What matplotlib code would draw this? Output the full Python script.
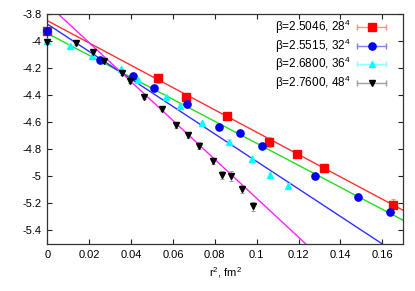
import matplotlib
matplotlib.use("Agg")
import matplotlib.pyplot as plt
import numpy as np
from matplotlib.lines import Line2D
from matplotlib.legend_handler import HandlerLine2D, HandlerTuple
from matplotlib.ticker import FuncFormatter

plt.rcParams['font.family'] = ['Liberation Sans', 'DejaVu Sans']
plt.rcParams['mathtext.fontset'] = 'custom'
plt.rcParams['mathtext.rm'] = 'Liberation Sans'
plt.rcParams['mathtext.it'] = 'Liberation Sans:italic'
plt.rcParams['axes.unicode_minus'] = False

# ---- data ----
labels = [r'β=2.5046, 28$^{\mathrm{4}}$', r'β=2.5515, 32$^{\mathrm{4}}$',
          r'β=2.6800, 36$^{\mathrm{4}}$', r'β=2.7600, 48$^{\mathrm{4}}$']

x_red = [0.0, 0.0528, 0.0661, 0.0859, 0.1058, 0.1190, 0.1322, 0.1652]
y_red = [-3.923, -4.275, -4.415, -4.555, -4.747, -4.833, -4.939, -5.215]
e_red = [0.03, 0.035, 0.03, 0.02, 0.035, 0.02, 0.025, 0.045]

x_blue = [0.0, 0.0252, 0.0409, 0.0510, 0.0667, 0.0820, 0.0921, 0.1025, 0.1280, 0.1485, 0.1638]
y_blue = [-3.923, -4.140, -4.258, -4.348, -4.464, -4.632, -4.683, -4.772, -4.996, -5.153, -5.266]
e_blue = [0.02, 0.015, 0.02, 0.02, 0.02, 0.015, 0.015, 0.02, 0.02, 0.02, 0.02]

x_cyan = [0.0, 0.0108, 0.0215, 0.0350, 0.0432, 0.0567, 0.0634, 0.0740, 0.0868, 0.0976, 0.1063, 0.1151]
y_cyan = [-3.997, -4.034, -4.110, -4.206, -4.287, -4.410, -4.479, -4.607, -4.747, -4.872, -4.988, -5.069]
e_cyan = [0.015, 0.01, 0.01, 0.01, 0.015, 0.015, 0.015, 0.015, 0.02, 0.02, 0.02, 0.02]

x_black = [0.0, 0.0137, 0.0218, 0.0272, 0.0355, 0.0395, 0.0462, 0.0548, 0.0615, 0.0670,
           0.0724, 0.0793, 0.0834, 0.0876, 0.0928, 0.0984]
y_black = [-4.004, -4.012, -4.078, -4.147, -4.233, -4.292, -4.410, -4.503, -4.624, -4.693,
           -4.772, -4.885, -4.988, -4.996, -5.092, -5.222]
e_black = [0.02, 0.015, 0.015, 0.015, 0.015, 0.015, 0.015, 0.015, 0.015, 0.02,
           0.025, 0.02, 0.03, 0.035, 0.03, 0.035]

# fit lines: intercept, slope
line_intercepts = [-3.849, -3.943, -3.874, -3.7245]
line_slopes = [-8.25, -8.13, -10.16, -14.38]
line_colors = ['#ff3030', '#22dd22', '#3030ff', '#ff22ff']

xticks = [0, 0.02, 0.04, 0.06, 0.08, 0.1, 0.12, 0.14, 0.16]
yticks = [-5.4, -5.2, -5.0, -4.8, -4.6, -4.4, -4.2, -4.0, -3.8]

# ---- figure ----
fig = plt.figure(figsize=(4.15, 2.91), dpi=100)
ax = fig.add_axes([47.3/415, 1-244/291, (403.3-47.3)/415, (244-14)/291])
ax.set_xlim(0, 0.17)
ax.set_ylim(-5.5, -3.8)

xx = np.array([0, 0.17])
for b, m, c in zip(line_intercepts, line_slopes, line_colors):
    ax.plot(xx, b + m*xx, color=c, lw=1.0, zorder=2)

series = [
    (x_red, y_red, e_red, 's', '#ff0000', '#ff9090', 5.2),
    (x_blue, y_blue, e_blue, 'o', '#0000ee', '#8080ff', 5.2),
    (x_cyan, y_cyan, e_cyan, '^', '#00ffff', '#90ffff', 4.8),
    (x_black, y_black, e_black, 'v', '#000000', '#a0a0a0', 4.8),
]
handles = []
hmap = {}
for (xs, ys, es, mk, col, ecol, ms) in series:
    eb = ax.errorbar(xs, ys, yerr=es, fmt=mk, color=col, mec=col, ms=ms,
                     ecolor=ecol, elinewidth=0.8, capsize=1.5, capthick=0.8, zorder=3)
    eb.lines[0].set_clip_on(False)
    capline = Line2D([], [], color=ecol, lw=1.0, marker='|', ms=5, mew=1.0)
    mkline = Line2D([], [], color=col, ls='none', marker=mk, ms=ms, mec=col)
    hmap[capline] = HandlerLine2D(numpoints=2)
    hmap[mkline] = HandlerLine2D(numpoints=1)
    handles.append((capline, mkline))
hmap[tuple] = HandlerTuple(ndivide=1, pad=0)

leg = ax.legend(handles, labels, handler_map=hmap,
                loc='upper right', bbox_to_anchor=((389.3-47.3)/356, (244-18)/230),
                frameon=False, markerfirst=False, borderpad=0, borderaxespad=0,
                handlelength=3.0, handletextpad=0.3, labelspacing=0.03, fontsize=8.5)

ax.set_xticks(xticks)
ax.set_yticks(yticks)
ax.xaxis.set_major_formatter(FuncFormatter(lambda v, p: '%g' % round(v, 4)))
ax.yaxis.set_major_formatter(FuncFormatter(lambda v, p: '%g' % round(v, 4)))
ax.tick_params(direction='in', length=3.5, width=0.8, top=True, right=True,
               labelsize=8, pad=4, colors='#222222', labelcolor='black')
for s in ax.spines.values():
    s.set_linewidth(0.9)
    s.set_color('#333333')

ax.set_xlabel(r'r$^{\mathrm{2}}$, fm$^{\mathrm{2}}$', fontsize=8, labelpad=4)

fig.savefig('out.png', dpi=100)
